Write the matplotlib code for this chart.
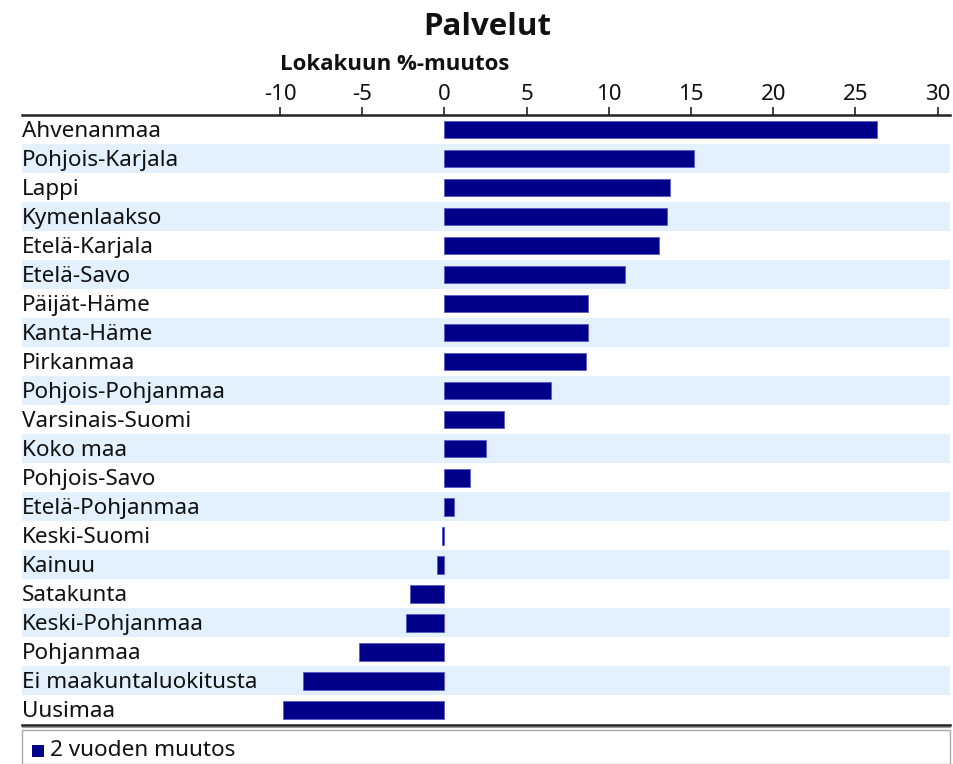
import matplotlib
matplotlib.use("Agg")
import matplotlib.pyplot as plt
from matplotlib.patches import Rectangle
from matplotlib.transforms import blended_transform_factory

categories = ["Ahvenanmaa", "Pohjois-Karjala", "Lappi", "Kymenlaakso", "Etelä-Karjala",
              "Etelä-Savo", "Päijät-Häme", "Kanta-Häme", "Pirkanmaa", "Pohjois-Pohjanmaa",
              "Varsinais-Suomi", "Koko maa", "Pohjois-Savo", "Etelä-Pohjanmaa", "Keski-Suomi",
              "Kainuu", "Satakunta", "Keski-Pohjanmaa", "Pohjanmaa", "Ei maakuntaluokitusta",
              "Uusimaa"]
values = [26.3, 15.2, 13.7, 13.55, 13.05, 10.95, 8.7, 8.7, 8.6, 6.5, 3.6, 2.5, 1.55, 0.6,
          -0.15, -0.45, -2.1, -2.35, -5.2, -8.6, -9.8]
tick_values = [-10, -5, 0, 5, 10, 15, 20, 25, 30]
tick_labels = ["-10", "-5", "0", "5", "10", "15", "20", "25", "30"]
title = "Palvelut"
subtitle = "Lokakuun %-muutos"
legend_label = "2 vuoden muutos"

W, H = 954, 764
fig = plt.figure(figsize=(W / 100, H / 100), dpi=100)
plt.rcParams['font.family'] = ['Noto Sans', 'DejaVu Sans']

left, right, top, bottom = 22, 950, 115, 724.5
ax = fig.add_axes([left / W, 1 - bottom / H, (right - left) / W, (bottom - top) / H])

n = len(categories)
ax.set_ylim(n - 0.5, -0.5)
ax.set_xlim(-25.7, 30.75)

trans = blended_transform_factory(ax.transAxes, ax.transData)
for i, (c, v) in enumerate(zip(categories, values)):
    if i % 2 == 1:
        ax.add_patch(Rectangle((0, i - 0.5), 1, 1, transform=trans,
                               facecolor="#e3f0fd", edgecolor="none", zorder=0))
    ax.text(0.0, i + 0.06, c, transform=trans, ha="left", va="center",
            fontsize=16.2, color="#111111")

ax.barh(range(n), values, height=0.6, color="#000088", edgecolor="#5a5ac8",
        linewidth=0.6, zorder=2)

ax.xaxis.tick_top()
ax.set_xticks(tick_values)
ax.set_xticklabels(tick_labels, fontsize=16, color="#111111")
ax.tick_params(axis="x", direction="out", length=6, width=1.2, pad=1, color="#222222")
ax.set_yticks([])
for s in ["left", "right"]:
    ax.spines[s].set_visible(False)
ax.spines["top"].set_linewidth(1.8)
ax.spines["top"].set_color("#222222")
ax.spines["bottom"].set_linewidth(1.8)
ax.spines["bottom"].set_color("#222222")

# secondary thin gray line below the bottom spine
fig.add_artist(plt.Line2D([left / W, right / W], [1 - 727 / H, 1 - 727 / H],
                          color="#999999", linewidth=0.8))

fig.text(487 / W, 1 - 27 / H, title, ha="center", va="center", family="Open Sans",
         fontsize=22.5, fontweight="bold", color="#111111")
fig.text(395 / W, 1 - 64 / H, subtitle, ha="center", va="center", family="Open Sans",
         fontsize=16, fontweight="bold", color="#111111")

# legend box
fig.add_artist(Rectangle((left / W, 0), (right - left) / W, (H - 730) / H,
                         transform=fig.transFigure, facecolor="white",
                         edgecolor="#aaaaaa", linewidth=1.0))
fig.add_artist(Rectangle((32 / W, 1 - 757 / H), 12 / W, 12 / H,
                         transform=fig.transFigure, facecolor="#000088",
                         edgecolor="none"))
fig.text(50 / W, 1 - 750 / H, legend_label, ha="left", va="center",
         fontsize=16.2, color="#111111")

fig.savefig("out.png", dpi=100)
